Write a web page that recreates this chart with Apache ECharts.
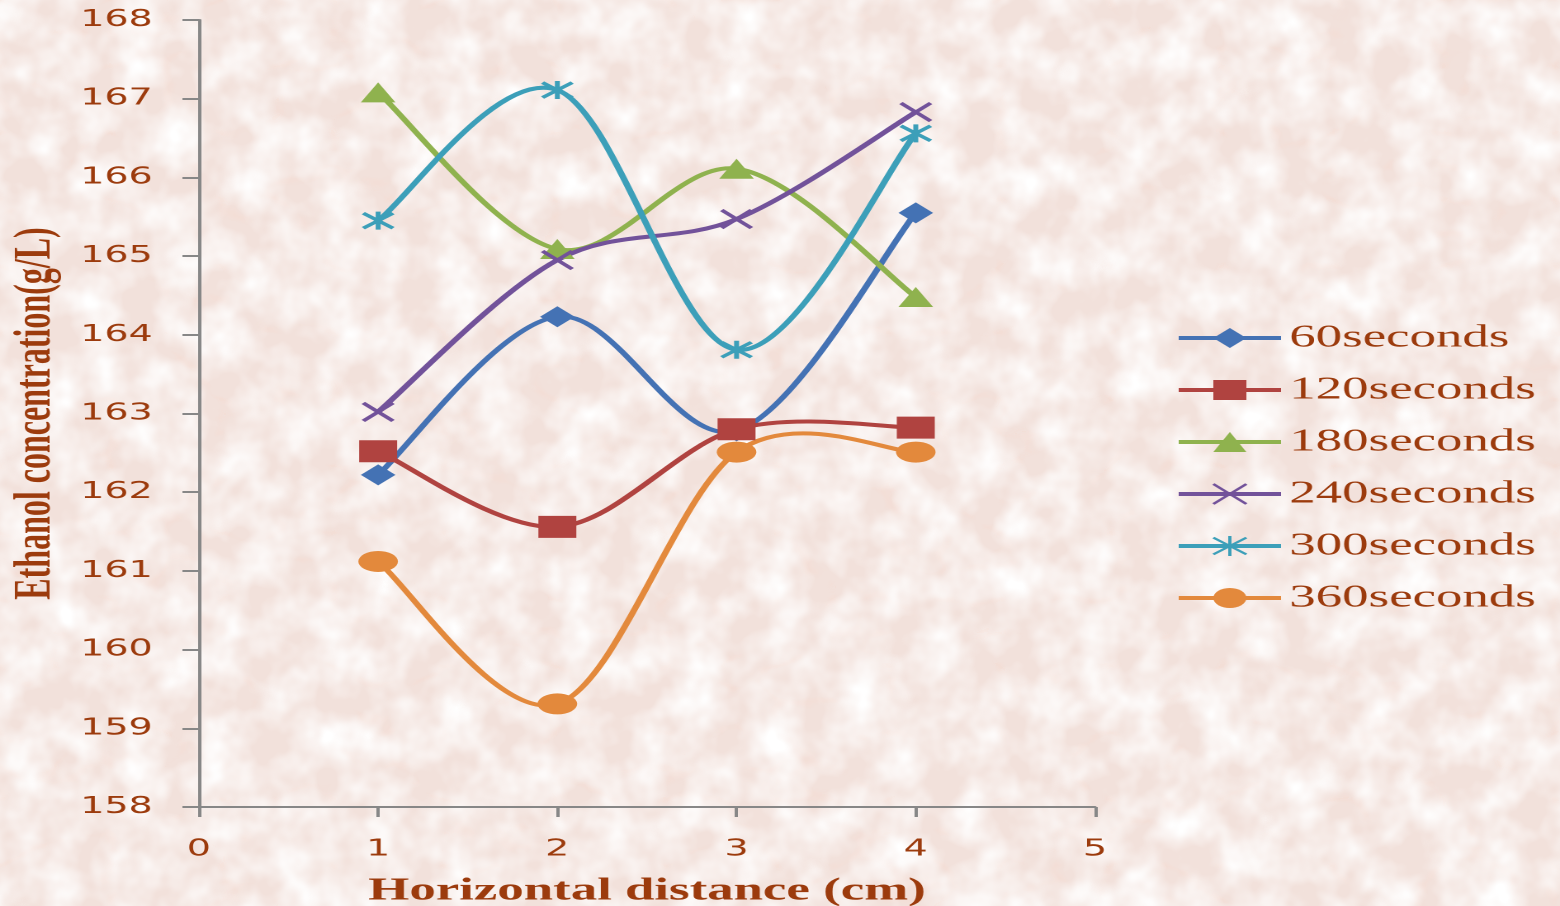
<!DOCTYPE html>
<html>
<head>
<meta charset="utf-8">
<title>Ethanol concentration vs horizontal distance</title>
<script src="https://cdn.jsdelivr.net/npm/echarts@6/dist/echarts.min.js"></script>
<style>
  html, body { margin: 0; padding: 0; width: 1560px; height: 906px; overflow: hidden; background: #f3e3de; }
  #bg { position: absolute; left: 0; top: 0; }
  #chart { position: absolute; left: 0; top: 0; width: 945px; height: 906px; transform-origin: 0 0; }
</style>
</head>
<body>
<!-- pale pink marble backdrop -->
<svg id="bg" width="1560" height="906" xmlns="http://www.w3.org/2000/svg">
  <defs>
    <filter id="veins" x="0" y="0" width="100%" height="100%">
      <feTurbulence type="turbulence" baseFrequency="0.009 0.015" numOctaves="3" seed="7"/>
      <feColorMatrix type="matrix" values="0 0 0 0 0.92  0 0 0 0 0.68  0 0 0 0 0.60  -2.6 0 0 0 0.34"/>
    </filter>
    <filter id="patches" x="0" y="0" width="100%" height="100%">
      <feTurbulence type="fractalNoise" baseFrequency="0.025" numOctaves="3" seed="4"/>
      <feColorMatrix type="matrix" values="0 0 0 0 1  0 0 0 0 1  0 0 0 0 1  1.9 0 0 0 -0.62"/>
    </filter>
  </defs>
  <rect width="1560" height="906" fill="#f2e1db"/>
  <rect width="1560" height="906" filter="url(#veins)"/>
  <rect width="1560" height="906" filter="url(#patches)"/>
</svg>
<div id="chart"></div>
<script>
// Horizontal stretch applied to the whole chart
const STRETCH = 1560 / 945;

// Horizontal distance (cm) of the sampling points
const xValues = [1, 2, 3, 4];

// Ethanol concentration (g/L) per exposure time
const names = ['60seconds', '120seconds', '180seconds', '240seconds', '300seconds', '360seconds'];
const s60  = [162.22, 164.23, 162.78, 165.55];
const s120 = [162.52, 161.56, 162.80, 162.82];
const s180 = [167.08, 165.09, 166.11, 164.48];
const s240 = [163.02, 164.95, 165.47, 166.83];
const s300 = [165.45, 167.11, 163.81, 166.56];
const s360 = [161.12, 159.31, 162.51, 162.51];

// Axis ranges
const xMin = 0, xMax = 5, xStep = 1;
const yMin = 158, yMax = 168, yStep = 1;

const colors = ['#4472b4', '#b04340', '#8fb24e', '#72529a', '#3c9fb9', '#e3893c'];
const brown = '#9c3b0d';
const axisGray = '#878787';

const crossPath = 'path://M0,0L10,10M10,0L0,10';
const starPath = 'path://M0,0L10,10M10,0L0,10M5,-1L5,11';

const markers = [
  { symbol: 'diamond', size: [21, 21], border: 0 },
  { symbol: 'rect', size: [23, 22], border: 0 },
  { symbol: 'triangle', size: [21, 20], border: 0 },
  { symbol: crossPath, size: [18, 18], border: 3 },
  { symbol: starPath, size: [18, 18], border: 3 },
  { symbol: 'circle', size: [24, 21], border: 0 }
];

const allSeries = [s60, s120, s180, s240, s300, s360];

const el = document.getElementById('chart');
el.style.transform = 'scaleX(' + STRETCH + ')';
const chart = echarts.init(el, null, { renderer: 'canvas', devicePixelRatio: 2 });

// Smooth curve through the points: cubic Bezier segments whose control
// points follow the neighbouring points (Catmull-Rom style, 1/6 tension).
function curveRenderer(vals, color) {
  return function (params, api) {
    const i = params.dataIndex;
    const n = vals.length;
    if (i >= n - 1) return null;
    const pt = function (k) {
      k = Math.max(0, Math.min(n - 1, k));
      return api.coord([xValues[k], vals[k]]);
    };
    const p0 = pt(i - 1), p1 = pt(i), p2 = pt(i + 1), p3 = pt(i + 2);
    return {
      type: 'bezierCurve',
      shape: {
        x1: p1[0], y1: p1[1],
        x2: p2[0], y2: p2[1],
        cpx1: p1[0] + (p2[0] - p0[0]) / 6,
        cpy1: p1[1] + (p2[1] - p0[1]) / 6,
        cpx2: p2[0] - (p3[0] - p1[0]) / 6,
        cpy2: p2[1] - (p3[1] - p1[1]) / 6
      },
      style: { stroke: color, lineWidth: 4, fill: null, lineCap: 'round' }
    };
  };
}

const curves = allSeries.map(function (vals, i) {
  return {
    name: 'curve-' + names[i],
    type: 'custom',
    z: 1,
    silent: true,
    clip: true,
    renderItem: curveRenderer(vals, colors[i]),
    encode: { x: 0, y: 1 },
    data: xValues.map(function (x, j) { return [x, vals[j]]; }),
    animation: false
  };
});

const points = allSeries.map(function (vals, i) {
  return {
    name: names[i],
    type: 'line',
    z: 3,
    data: xValues.map(function (x, j) { return [x, vals[j]]; }),
    symbol: markers[i].symbol,
    symbolSize: markers[i].size,
    showSymbol: true,
    lineStyle: { color: colors[i], width: 4, opacity: 0 },
    itemStyle: {
      color: colors[i],
      borderColor: colors[i],
      borderWidth: markers[i].border
    },
    emphasis: { disabled: true },
    animation: false
  };
});

chart.setOption({
  backgroundColor: 'transparent',
  animation: false,
  color: colors,
  grid: { left: 120.5, right: 281.7, top: 20, bottom: 99, containLabel: false, outerBoundsMode: 'none' },
  xAxis: {
    type: 'value',
    min: xMin, max: xMax, interval: xStep,
    name: 'Horizontal distance (cm)',
    nameLocation: 'middle',
    nameGap: 68,
    nameTextStyle: { fontFamily: 'Liberation Serif', fontWeight: 'bold', fontSize: 32, color: brown },
    axisLine: { onZero: false, lineStyle: { color: axisGray, width: 2 } },
    axisTick: { show: true, inside: false, length: 10, lineStyle: { color: axisGray, width: 2 } },
    axisLabel: { margin: 31, fontFamily: 'DejaVu Sans', fontSize: 23, color: brown },
    splitLine: { show: false }
  },
  yAxis: {
    type: 'value',
    min: yMin, max: yMax, interval: yStep,
    name: 'Ethanol concentration(g/L)',
    nameLocation: 'middle',
    nameGap: 82.5,
    nameTextStyle: { fontFamily: 'Liberation Serif', fontWeight: 'bold', fontSize: 32, color: brown },
    axisLine: { show: true, lineStyle: { color: axisGray, width: 2 } },
    axisTick: { show: true, inside: false, length: 10, lineStyle: { color: axisGray, width: 2 } },
    axisLabel: { margin: 28, fontFamily: 'DejaVu Sans', fontSize: 23, color: brown },
    splitLine: { show: false }
  },
  legend: {
    orient: 'vertical',
    left: 707,
    top: 317,
    itemWidth: 62,
    itemHeight: 25,
    itemGap: 20,
    lineStyle: { width: 4, opacity: 1 },
    textStyle: { fontFamily: 'Liberation Serif', fontSize: 32, color: brown, lineHeight: 32 },
    data: names
  },
  series: curves.concat(points)
});
</script>
</body>
</html>
